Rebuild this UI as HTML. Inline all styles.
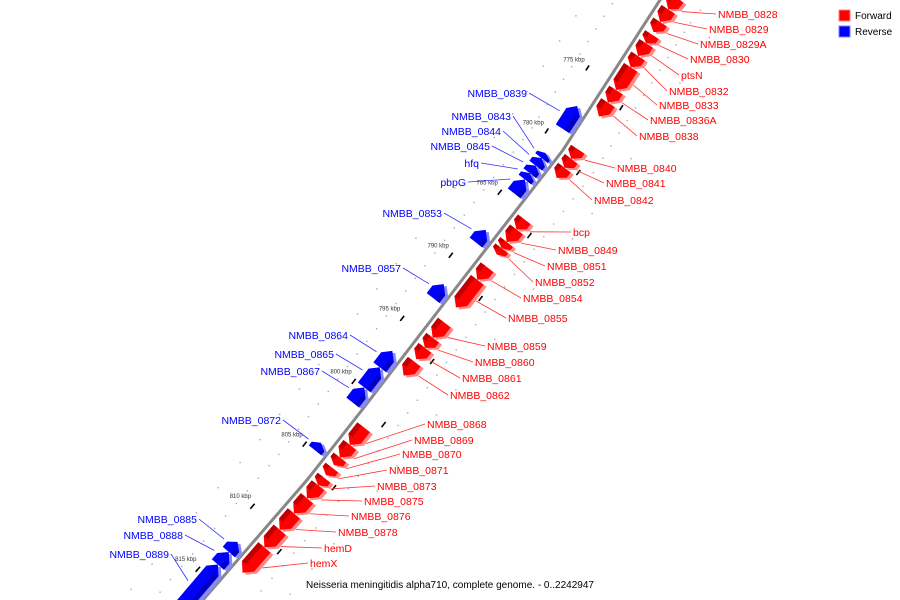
<!DOCTYPE html>
<html><head><meta charset="utf-8"><style>
html,body{margin:0;padding:0;background:#fff;width:900px;height:600px;overflow:hidden}
svg{display:block;font-family:"Liberation Sans","DejaVu Sans",sans-serif}
</style></head><body>
<svg id="chart" width="900" height="600" viewBox="0 0 900 600" xmlns="http://www.w3.org/2000/svg">
<rect x="0" y="0" width="900" height="600" fill="#fff"/>
<g id="grid"></g>
<polyline id="backbone" fill="none" stroke="#888" stroke-width="3" points=""/>
<g id="genes"></g>
<g id="labels"></g>
<g>
<rect x="839" y="10" width="11" height="11" fill="#ff0000" stroke="#ff8080" stroke-width="1"/>
<text x="855" y="19" font-size="10" fill="#000">Forward</text>
<rect x="839" y="26" width="11" height="11" fill="#0000ff" stroke="#8080ff" stroke-width="1"/>
<text x="855" y="35" font-size="10" fill="#000">Reverse</text>
</g>
<text x="450" y="588" font-size="10" text-anchor="middle" fill="#000">Neisseria meningitidis alpha710, complete genome. - 0..2242947</text>
</svg>
<script>
// ---- data ----
const geneNames = ["NMBB_0828","NMBB_0829","NMBB_0829A","NMBB_0830","ptsN","NMBB_0832","NMBB_0833","NMBB_0836A","NMBB_0838",
 "NMBB_0840","NMBB_0841","NMBB_0842","bcp","NMBB_0849","NMBB_0851","NMBB_0852","NMBB_0854","NMBB_0855",
 "NMBB_0859","NMBB_0860","NMBB_0861","NMBB_0862","NMBB_0868","NMBB_0869","NMBB_0870","NMBB_0871","NMBB_0873",
 "NMBB_0875","NMBB_0876","NMBB_0878","hemD","hemX",
 "NMBB_0839","NMBB_0843","NMBB_0844","NMBB_0845","hfq","pbpG","NMBB_0853","NMBB_0857","NMBB_0864","NMBB_0865",
 "NMBB_0867","NMBB_0872","NMBB_0885","NMBB_0888","NMBB_0889"];
const geneStart = [767.8,768.8,769.8,770.8,771.5,772.5,773.4,775.2,776.2,
 779.9,780.6,781.3,785.4,786.2,787.2,787.7,789.2,790.2,
 793.6,794.8,795.6,796.7,801.9,803.3,804.3,805.1,805.9,
 806.5,807.5,808.7,810.0,811.4,
 777.5,781.3,781.7,782.3,782.9,783.4,787.4,791.7,797.0,798.3,
 799.9,804.3,812.2,813.0,814.0];
const geneEnd = [768.8,769.8,770.6,771.5,772.5,773.4,775.2,776.2,777.3,
 780.6,781.3,782.1,786.2,787.2,787.7,788.2,790.2,792.4,
 794.8,795.6,796.5,797.8,803.3,804.3,804.9,805.7,806.5,
 807.5,808.7,810.0,811.4,813.4,
 779.3,781.7,782.3,782.9,783.4,784.5,788.4,792.8,798.3,799.9,
 801.1,804.9,813.0,814.0,817.8];
const geneStrand = [1,1,1,1,1,1,1,1,1, 1,1,1,1,1,1,1,1,1, 1,1,1,1,1,1,1,1,1, 1,1,1,1,1,
 -1,-1,-1,-1,-1,-1,-1,-1,-1,-1, -1,-1,-1,-1,-1];
const tickKbp = [775,780,785,790,795,800,805,810,815];
const tickLabels = ["775 kbp","780 kbp","785 kbp","790 kbp","795 kbp","800 kbp","805 kbp","810 kbp","815 kbp"];
// ---- layout (label anchor positions, not data) ----
const labelAnchors = [[718,14],[709,29],[700,44],[690,59],[681,75],[669,91],[659,105],[650,120],[639,136],
 [617,168],[606,183],[594,200],[573,232],[558,250],[547,266],[535,282],[523,298],[508,318],
 [487,346],[475,362],[462,378],[450,395],[427,424],[414,440],[402,454],[389,470],[377,486],
 [364,501],[351,516],[338,532],[324,548],[310,563],
 [527,93],[511,116],[501,131],[490,146],[479,163],[466,182],[442,213],[401,268],[348,335],[334,354],
 [320,371],[281,420],[197,519],[183,535],[169,554]];
const bbPts = [[676,-20],[660,0],[563,150],[462,280],[362,410],[307,480],[203,600],[188,618]];

const NS="http://www.w3.org/2000/svg";
function bx(y){for(let i=0;i<bbPts.length-1;i++){const a=bbPts[i],b=bbPts[i+1];if(y<=b[1]||i==bbPts.length-2){const t=(y-a[1])/(b[1]-a[1]);return a[0]+t*(b[0]-a[0]);}}}
function yOf(k){return 81+(k-775)*12.6;}
function P(k){const y=yOf(k);return [bx(y),y];}
function N(k){const y=yOf(k);const dx=bx(y+1)-bx(y-1),dy=2;const l=Math.hypot(dx,dy);const d=[dx/l,dy/l];return [d[1],-d[0]];}
function pt(k,v){const p=P(k),n=N(k);return [p[0]+n[0]*v,p[1]+n[1]*v];}
function mk(tag,attrs,parent){const e=document.createElementNS(NS,tag);for(const k in attrs)e.setAttribute(k,attrs[k]);parent.appendChild(e);return e;}

document.getElementById('backbone').setAttribute('points',bbPts.map(p=>p.join(',')).join(' '));

const grid=document.getElementById('grid');
for(let k=767;k<=819;k++){
  [-38,38,-62,62].forEach((v,i)=>{ if(i>1 && k%2) return;
    const q=pt(k+0.5,v);
    const c=mk('rect',{x:q[0]-0.7,y:q[1]-0.7,width:1.4,height:1.4,fill:'#aaa'},grid);
    
    
  });
}
tickKbp.forEach((k,i)=>{
  const a=pt(k-0.2,-24),b=pt(k+0.2,-24);
  const t=mk('line',{x1:a[0],y1:a[1],x2:b[0],y2:b[1],stroke:'#000','stroke-width':1.6},grid);
  
  
  const a2=pt(k+0.8,26),b2=pt(k+1.2,26);
  const t2=mk('line',{x1:a2[0],y1:a2[1],x2:b2[0],y2:b2[1],stroke:'#000','stroke-width':1.6},grid);
  
  
  const q=pt(k,-40);
  const tl=mk('text',{x:q[0],y:q[1]+2,'font-size':6,'text-anchor':'middle',fill:'#333'},grid);
  tl.textContent=tickLabels[i];
  
  
});

const genes=document.getElementById('genes'), labels=document.getElementById('labels');
geneNames.forEach((name,i)=>{
  const s=geneStart[i],e=geneEnd[i],st=geneStrand[i];
  const v1=4*st,v2=20*st,vm=12*st;
  const len=e-s,a=Math.min(0.5,len/2);
  let poly;
  if(st>0) poly=[pt(s,v1),pt(s,v2),pt(e-a,v2),pt(e,vm),pt(e-a,v1)];
  else poly=[pt(e,v1),pt(e,v2),pt(s+a,v2),pt(s,vm),pt(s+a,v1)];
  const col=st>0?'#ff0000':'#0000ff', sh=st>0?'#ff8888':'#8888ff', dk=st>0?'#c00000':'#0000c0';
  const g=mk('g',{},genes);
  
  
  mk('polygon',{points:poly.map(p=>(p[0]+3)+','+(p[1]+2)).join(' '),fill:sh},g);
  mk('polygon',{points:poly.map(p=>p.join(',')).join(' '),fill:col},g);
  const strip=st>0?[pt(s,v1),pt(s,v1+5),pt(e-a,v1+5),pt(e-a,v1)]:[pt(e,v1),pt(e,v1-5),pt(s+a,v1-5),pt(s+a,v1)];
  mk('polygon',{points:strip.map(p=>p.join(',')).join(' '),fill:dk},g);
  const la=labelAnchors[i];
  const m=pt((s+e)/2,st*24);
  const lx=st>0?la[0]-2:la[0]+2;
  const ln=mk('line',{x1:m[0],y1:m[1],x2:lx,y2:la[1],stroke:st>0?'#ff3030':'#3030ff','stroke-width':0.8},labels);
  
  
  const tx=mk('text',{x:la[0],y:la[1]+4,'font-size':10.5,fill:col,'text-anchor':st>0?'start':'end'},labels);
  tx.textContent=name;
  
  
});
</script>
</body></html>
